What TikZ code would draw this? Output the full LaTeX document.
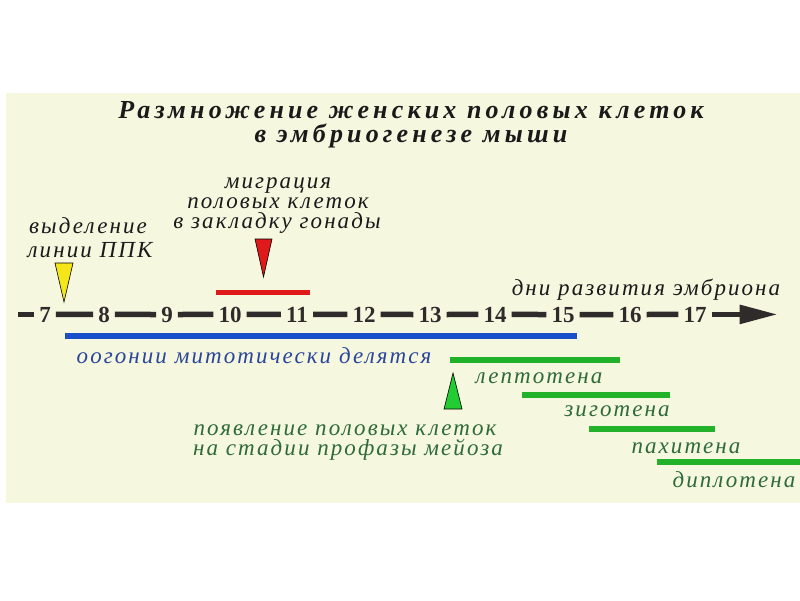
\documentclass[tikz,border=0pt]{standalone}
\usepackage{fontspec}
\setmainfont{Liberation Serif}
\usetikzlibrary{arrows.meta}
\definecolor{bgc}{HTML}{F5F7DF}
\definecolor{tlc}{HTML}{2F2B2B}
\definecolor{redc}{HTML}{E0191A}
\definecolor{bluebar}{HTML}{1A4FCC}
\definecolor{bluetxt}{HTML}{2B459A}
\definecolor{greenbar}{HTML}{22B22A}
\definecolor{greentxt}{HTML}{2F6A3A}
\definecolor{yelc}{HTML}{F5E61A}
\definecolor{gtri}{HTML}{22CC33}
\definecolor{txt}{HTML}{1A1A1A}
\begin{document}
\begin{tikzpicture}[x=1pt,y=-1pt,
  lbl/.style={font=\fontsize{23}{24}\selectfont\itshape\addfontfeature{LetterSpace=9}, inner sep=0pt, anchor=base, text=txt, text height=13pt, text depth=4pt},
  ttl/.style={font=\fontsize{26}{28}\selectfont\bfseries\itshape\addfontfeature{LetterSpace=16}, inner sep=0pt, anchor=base, text=txt},
  num/.style={font=\fontsize{23}{24}\selectfont\bfseries, inner xsep=5pt, inner ysep=0pt, anchor=base, text=tlc},
  tl/.style={line width=5.5pt, draw=tlc},
  bar/.style={line width=6pt},
  tri/.style={draw=black, line width=0.6pt, line join=miter}]
\useasboundingbox (0,0) rectangle (800,600);
\fill[white] (0,0) rectangle (800,600);
\fill[bgc] (6,93) rectangle (800,503);
% title
\node[ttl] (t1) at (411,118) {Размножение женских половых клеток};
\node[ttl] (t2) at (411,142) {в эмбриогенезе мыши};
% labels
\node[lbl] (m1) at (278,188) {миграция};
\node[lbl] (m2) at (278,208) {половых клеток};
\node[lbl] (m3) at (277,228) {в закладку гонады};
\node[lbl] (v1) at (88,233) {выделение};
\node[lbl] (v2) at (90,257) {линии ППК};
\node[lbl] (dn) at (646,295) {дни развития эмбриона};
\node[lbl, text=bluetxt] (oo) at (254,363) {оогонии митотически делятся};
\node[lbl, text=greentxt] (le) at (539,383) {лептотена};
\node[lbl, text=greentxt] (zi) at (617,416) {зиготена};
\node[lbl, text=greentxt] (pa) at (686,453) {пахитена};
\node[lbl, text=greentxt] (di) at (734,487) {диплотена};
\node[lbl, text=greentxt] (p1) at (345,435) {появление половых клеток};
\node[lbl, text=greentxt] (p2) at (348,455) {на стадии профазы мейоза};
% timeline numbers
\foreach \n/\x in {7/45,8/104,9/167,10/230,11/297,12/364,13/430,14/495,15/563,16/630,17/695}
  \node[num] (n\n) at (\x,322) {\n};
\draw[tl] (n7.west) -- ++(-16,0);
\foreach \a/\b in {7/8,8/9,9/10,10/11,11/12,12/13,13/14,14/15,15/16,16/17}
  \draw[tl] (n\a.east) -- (n\b.west);
\draw[tl, -{Triangle[length=38pt,width=18pt]}] (n17.east) -- ++(66,0);
% bars
\draw[bar, draw=redc, line width=5pt] (216,292) -- (310,292);
\draw[bar, draw=bluebar] (65,336) -- (577,336);
\draw[bar, draw=greenbar] (450,360) -- (620,360);
\draw[bar, draw=greenbar] (522,395) -- (670,395);
\draw[bar, draw=greenbar] (589,429) -- (715,429);
\draw[bar, draw=greenbar] (657,462) -- (800,462);
% triangles
\filldraw[tri, fill=yelc] (55,263) -- (73,263) -- (64,302) -- cycle;
\filldraw[tri, fill=redc] (255,239) -- (272,239) -- (263.5,277) -- cycle;
\filldraw[tri, fill=gtri] (453,373) -- (462,409) -- (444,409) -- cycle;
\end{tikzpicture}
\end{document}
